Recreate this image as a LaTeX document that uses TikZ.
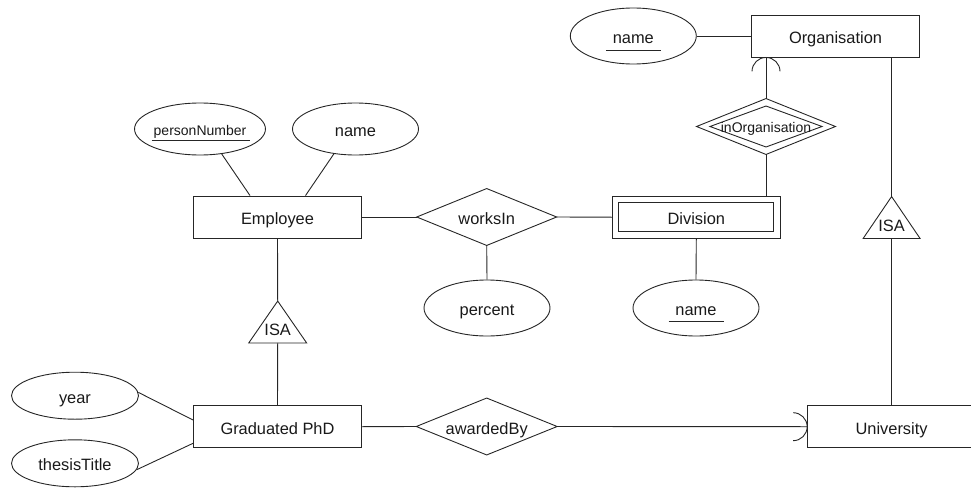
\documentclass[tikz,border=0pt]{standalone}
\usepackage{fontspec}
\setmainfont{Liberation Sans}
\usetikzlibrary{shapes.geometric,calc}
\newcommand{\lblfont}{\fontsize{16.4}{19}\selectfont}
\newcommand{\smallfont}{\fontsize{14}{17}\selectfont}
\begin{document}
\begin{tikzpicture}[x=1pt,y=-1pt, line width=0.9pt, color=black!85,
  lbl/.style={font=\lblfont, text=black!90, text height=15pt, text depth=0pt},
  smalllbl/.style={font=\smallfont, text=black!90, text height=12.8pt, text depth=0pt},
  entity/.style={draw, rectangle, minimum width=168pt, minimum height=42pt, inner sep=0pt, lbl},
  attr/.style={draw, ellipse, minimum width=126pt, minimum height=56pt, inner sep=0pt, lbl},
  rel/.style={rectangle, minimum width=139pt, minimum height=56pt, inner sep=0pt, lbl},
  isabox/.style={rectangle, minimum width=57pt, minimum height=41pt, inner sep=0pt},
  isatext/.style={inner sep=0pt, font=\lblfont, text=black!90}
]
\useasboundingbox (0,0) rectangle (971,487);

% entities
\node[entity] (org)  at (835.5,36) {Organisation};
\node[entity] (div)  at (696.3,217.2) {Division};
\node[entity] (emp)  at (277.5,217) {Employee};
\node[entity] (gphd) at (277.5,426.7) {Graduated PhD};
\node[entity] (univ) at (891.6,426.7) {University};
% inner frame of the weak entity
\draw ($(div.north west)+(7,7)$) rectangle ($(div.south east)+(-7,-7)$);

% attributes
\node[attr] (oname) at (633.3,36) {name};
\node[attr] (dname) at (696,308) {name};
\node[attr] (pct)   at (487,308) {percent};
\node[attr, minimum height=52pt, smalllbl] (pn) at (200,129) {personNumber};
\node[attr, minimum height=52pt] (ename) at (355.5,129) {name};
\node[attr, minimum width=127pt, minimum height=47pt] (year)   at (75,395.7) {year};
\node[attr, minimum width=127pt, minimum height=47pt] (thesis) at (75,463.3) {thesisTitle};
% key underlines
\draw ($(oname)+(-27.5,14)$) -- ($(oname)+(27.5,14)$);
\draw ($(dname)+(-27.5,13.7)$) -- ($(dname)+(27.5,13.7)$);
\draw ($(pn)+(-48.5,11)$) -- ($(pn)+(49.5,11)$);

% relationships
\node[rel] (works) at (486.7,217) {worksIn};
\draw (works.west) -- (works.north) -- (works.east) -- (works.south) -- cycle;
\node[rel, minimum width=140pt] (award) at (486.7,426.5) {awardedBy};
\draw (award.west) -- (award.north) -- (award.east) -- (award.south) -- cycle;
\node[rel, minimum width=138pt, minimum height=55pt, smalllbl] (inorg) at (766,126.5) {inOrganisation};
\draw (inorg.west) -- (inorg.north) -- (inorg.east) -- (inorg.south) -- cycle;
\draw ($(inorg)+(-56,0)$) -- ($(inorg)+(0,-20.5)$) -- ($(inorg)+(56,0)$) -- ($(inorg)+(0,20.5)$) -- cycle;

% ISA triangles
\node[isabox] (isa1) at (277.7,322) {};
\draw (isa1.south west) -- (isa1.north) -- (isa1.south east) -- cycle;
\node[isatext] (isa1t) at ($(isa1)+(0,7.7)$) {ISA};
\node[isabox, minimum width=56pt] (isa2) at (891.6,217.5) {};
\draw (isa2.south west) -- (isa2.north) -- (isa2.south east) -- cycle;
\node[isatext] (isa2t) at ($(isa2)+(0,8)$) {ISA};

% connectors
\draw (oname.east) -- (org.west);
\coordinate (orgfoot) at (inorg.north |- org.south);
\draw (inorg.north) -- (orgfoot);
\draw ($(orgfoot)+(-14,14)$) arc[start angle=180, end angle=0, radius=14pt];
\draw (inorg.south) -- (inorg.south |- div.north);
\draw (isa2.north) -- (isa2.north |- org.south);
\draw (isa2.south) -- (isa2.south |- univ.north);
\draw (div.south) -- (dname.north);
\draw (emp.east) -- (works.west);
\draw (works.east) -- (div.west);
\draw (works.south) -- (pct.north);
\draw (pn.-49) -- ($(emp.north)+(-27.5,0)$);
\draw (ename.-131) -- ($(emp.north)+(28,0)$);
\draw (emp.south) -- (isa1.north);
\draw (isa1.south) -- (gphd.north);
\draw (year.3) -- ($(gphd.west)+(0,-6.7)$);
\draw (thesis.-6) -- ($(gphd.west)+(0,16.6)$);
\draw (gphd.east) -- (award.west);
\draw (award.east) -- (univ.west);
\coordinate (univfoot) at ($(univ.west)+(-14,0)$);
\draw ($(univfoot)+(0,-14)$) arc[start angle=90, end angle=-90, radius=14pt];
\end{tikzpicture}
\end{document}
